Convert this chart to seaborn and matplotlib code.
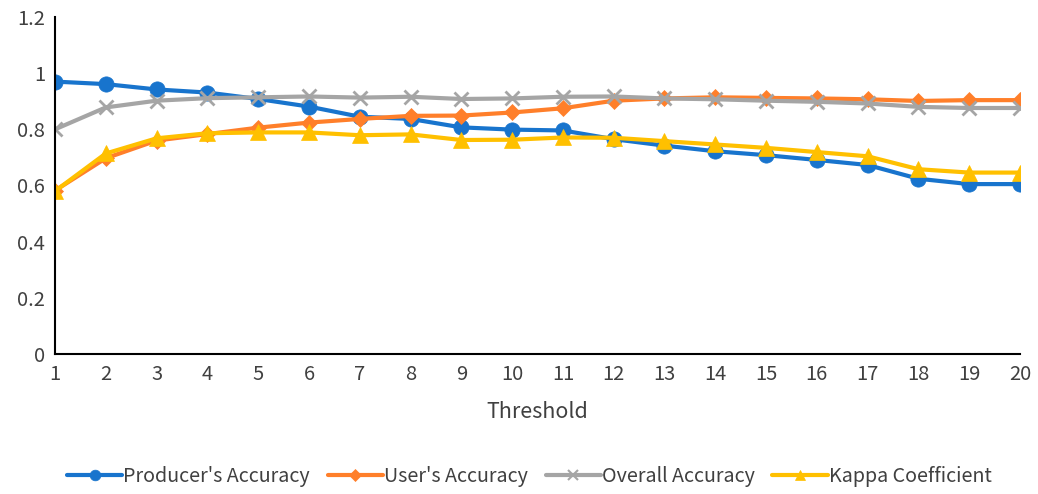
import matplotlib
matplotlib.use("Agg")
import matplotlib.pyplot as plt
import seaborn as sns
import pandas as pd
from matplotlib.ticker import FuncFormatter, MultipleLocator
from matplotlib.lines import Line2D

thresholds = list(range(1, 21))
producers_acc = [0.970, 0.961, 0.942, 0.931, 0.908, 0.881, 0.845, 0.837, 0.807, 0.799,
                 0.796, 0.765, 0.742, 0.722, 0.708, 0.691, 0.673, 0.624, 0.605, 0.605]
users_acc = [0.582, 0.697, 0.760, 0.783, 0.806, 0.824, 0.837, 0.848, 0.849, 0.860,
             0.875, 0.902, 0.910, 0.914, 0.912, 0.910, 0.907, 0.901, 0.904, 0.904]
overall_acc = [0.800, 0.878, 0.902, 0.911, 0.914, 0.917, 0.913, 0.916, 0.908, 0.910,
               0.916, 0.917, 0.910, 0.907, 0.902, 0.898, 0.892, 0.880, 0.876, 0.876]
kappa = [0.580, 0.714, 0.768, 0.786, 0.789, 0.789, 0.779, 0.782, 0.762, 0.763,
         0.771, 0.770, 0.758, 0.746, 0.734, 0.719, 0.704, 0.658, 0.646, 0.646]

series_names = ["Producer's Accuracy", "User's Accuracy", "Overall Accuracy", "Kappa Coefficient"]
series_values = [producers_acc, users_acc, overall_acc, kappa]
colors = ["#1874CD", "#FF7F2A", "#A5A5A5", "#FFC000"]
markers = ["o", "D", "x", "^"]
msizes = [11, 8.5, 10, 11]

df = pd.concat(
    [pd.DataFrame({"Threshold": thresholds, "value": v, "series": n})
     for n, v in zip(series_names, series_values)],
    ignore_index=True,
)

sns.set_theme(style="white")
plt.rcParams["font.family"] = ["Noto Sans CJK SC", "DejaVu Sans"]
text_color = "#404040"

fig = plt.figure(figsize=(10.38, 4.94), dpi=100)
ax = fig.add_axes([55 / 1038, 1 - 354 / 494, (1020 - 55) / 1038, (354 - 17) / 494])

for name, col, mk, ms in zip(series_names, colors, markers, msizes):
    sub = df[df["series"] == name]
    sns.lineplot(data=sub, x="Threshold", y="value", ax=ax, color=col, linewidth=3,
                 marker=mk, markersize=ms, markeredgecolor=col,
                 markeredgewidth=2 if mk == "x" else 0.5, legend=False)

ax.set_xlim(1, 20)
ax.set_ylim(0, 1.2)
ax.set_xticks(thresholds)
ax.yaxis.set_major_locator(MultipleLocator(0.2))
ax.yaxis.set_major_formatter(FuncFormatter(lambda v, p: f"{v:g}"))
ax.set_xlabel("Threshold", fontsize=15.5, color=text_color, labelpad=12)
ax.set_ylabel("")

for side in ["top", "right"]:
    ax.spines[side].set_visible(False)
for side in ["left", "bottom"]:
    ax.spines[side].set_color("black")
    ax.spines[side].set_linewidth(1.5)
ax.tick_params(axis="both", direction="in", length=5, width=1.3, color="black",
               labelsize=14.5, labelcolor=text_color, pad=7)

handles = [Line2D([], [], color=c, linewidth=3, marker=m, markersize=s * 0.7,
                  markeredgecolor=c, markeredgewidth=1.5 if m == "x" else 0.5)
           for c, m, s in zip(colors, markers, msizes)]
fig.legend(handles, series_names, loc="center", bbox_to_anchor=(0.51, 1 - 476 / 494),
           ncol=4, frameon=False, fontsize=14.2, handlelength=2.8, handletextpad=0.05,
           columnspacing=0.9, labelcolor=text_color)

fig.savefig("out.png", dpi=100)
